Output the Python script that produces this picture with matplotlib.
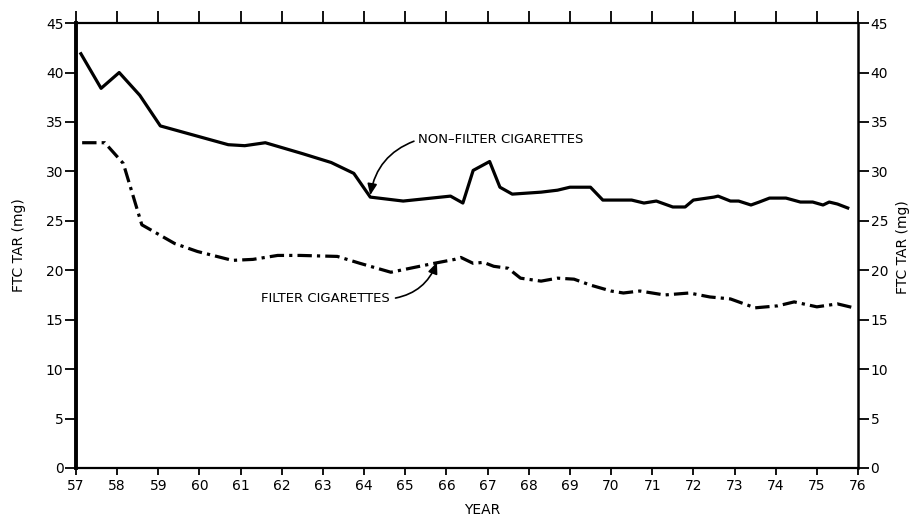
import matplotlib.pyplot as plt
import numpy as np

# non-filter cigarettes (solid line)
nf_year = [57.12, 57.61, 58.05, 58.55, 59.05, 60.7, 61.1, 61.6, 62.5, 63.2, 63.75,
           64.15, 64.95, 66.1, 66.4, 66.65, 67.05, 67.3, 67.6, 68.3, 68.7, 69.0,
           69.5, 69.8, 70.5, 70.8, 71.1, 71.5, 71.8, 72.0, 72.5, 72.6, 72.9, 73.1,
           73.4, 73.6, 73.85, 74.25, 74.6, 74.9, 75.15, 75.3, 75.5, 75.75]
nf_tar = [41.9, 38.4, 40.0, 37.7, 34.6, 32.7, 32.6, 32.9, 31.8, 30.9, 29.8,
          27.4, 27.0, 27.5, 26.8, 30.1, 31.0, 28.4, 27.7, 27.9, 28.1, 28.4,
          28.4, 27.1, 27.1, 26.8, 27.0, 26.4, 26.4, 27.1, 27.4, 27.5, 27.0, 27.0,
          26.6, 26.9, 27.3, 27.3, 26.9, 26.9, 26.6, 26.9, 26.7, 26.3]

# filter cigarettes (dash-dot line)
f_year = [57.15, 57.7, 58.15, 58.6, 59.4, 59.95, 60.8, 61.3, 61.9, 62.45, 63.35,
          63.9, 64.65, 65.7, 66.2, 66.35, 66.65, 66.9, 67.15, 67.5, 67.8, 68.3,
          68.7, 69.1, 69.5, 70.0, 70.3, 70.7, 71.3, 71.9, 72.4, 72.9, 73.5, 74.05,
          74.45, 75.0, 75.5, 75.9]
f_tar = [32.9, 32.9, 30.8, 24.6, 22.7, 21.9, 21.0, 21.1, 21.5, 21.5, 21.4,
         20.7, 19.8, 20.7, 21.1, 21.3, 20.7, 20.8, 20.4, 20.2, 19.2, 18.9,
         19.2, 19.1, 18.5, 17.9, 17.7, 17.9, 17.5, 17.7, 17.3, 17.1, 16.2, 16.4,
         16.8, 16.3, 16.6, 16.2]

years = list(range(57, 77))
tar_ticks = list(range(0, 46, 5))

plt.rcParams['font.family'] = ['DejaVu Sans']

fig = plt.figure(figsize=(9.12, 5.25), dpi=100)
ax = fig.add_axes([0.0833, 0.1086, 0.8575, 0.8474])

ax.plot(nf_year, nf_tar, color='black', lw=2.3, solid_joinstyle='round')
ax.plot(f_year, f_tar, color='black', lw=2.3, dashes=(4.5, 1.6, 1, 1.6))

ax.set_xlim(57, 76)
ax.set_ylim(0, 45)
ax.set_xticks(years)
ax.set_xticklabels([str(y) for y in years])
ax.set_yticks(tar_ticks)

ax.tick_params(axis='both', direction='out', labelsize=10, width=1.3, color='black')
ax.tick_params(axis='x', length=5, pad=3)
ax.tick_params(axis='y', length=8, pad=1)
ax.tick_params(top=True, right=True, labelright=True)
for t in ax.xaxis.get_major_ticks():
    t.tick2line.set_markersize(9)

ax.spines['left'].set_linewidth(2.8)
ax.spines['right'].set_linewidth(1.8)
ax.spines['top'].set_linewidth(1.6)
ax.spines['bottom'].set_linewidth(1.6)

ax.set_xlabel('YEAR', fontsize=10)
ax.xaxis.set_label_coords(0.52, -0.078)
ax.set_ylabel('FTC TAR (mg)', fontsize=10, labelpad=14)
fig.text(0.99, 0.53, 'FTC TAR (mg)', rotation=90, ha='center', va='center', fontsize=10)

ax.annotate('NON\u2013FILTER CIGARETTES', xy=(64.15, 27.6), xytext=(65.31, 33.2),
            ha='left', va='center', fontsize=9.5,
            arrowprops=dict(arrowstyle='-|>,head_length=0.7,head_width=0.3',
                            color='black', lw=1.2, shrinkA=1, shrinkB=0,
                            relpos=(0, 0.5),
                            connectionstyle='arc3,rad=0.3'))
ax.annotate('FILTER CIGARETTES', xy=(65.77, 20.8), xytext=(64.63, 17.1),
            ha='right', va='center', fontsize=9.5,
            arrowprops=dict(arrowstyle='-|>,head_length=0.7,head_width=0.3',
                            color='black', lw=1.2, shrinkA=2, shrinkB=0,
                            relpos=(1, 0.5),
                            connectionstyle='arc3,rad=0.3'))

fig.savefig('out.png', dpi=100)
